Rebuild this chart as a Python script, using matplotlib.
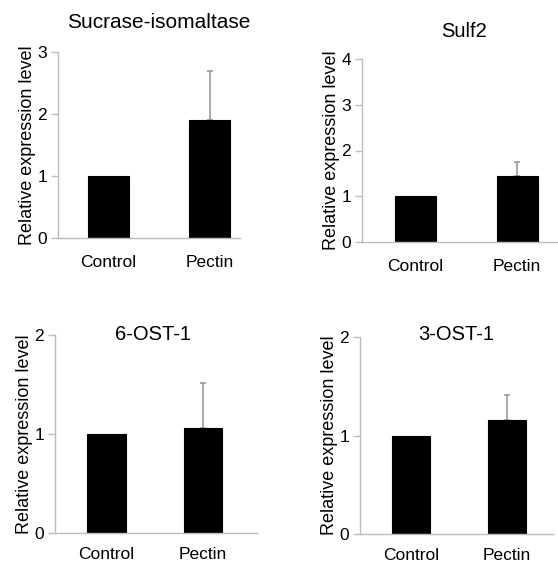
import matplotlib
matplotlib.use("Agg")
import matplotlib.pyplot as plt

plt.rcParams["font.family"] = ["Liberation Sans", "DejaVu Sans"]

TITLES = ["Sucrase-isomaltase", "Sulf2", "6-OST-1", "3-OST-1"]
GROUPS = ["Control", "Pectin"]
CONTROL = [1.0, 1.0, 1.0, 1.0]
PECTIN = [1.9, 1.45, 1.06, 1.16]
PECTIN_ERR = [0.8, 0.3, 0.46, 0.25]
Y_MAX = [3, 4, 2, 2]

# axes boxes in pixels (left, top, right, bottom) measured on a 558x562 canvas
W, H = 558, 562
BOXES = [(58, 52, 240, 238), (362, 59, 557, 242),
         (55, 335, 257, 533), (360, 337, 553, 534)]
XLIMS = [(-0.5, 1.3), (-0.52, 1.39), (-0.53, 1.56), (-0.53, 1.48)]
# title placement in axes fraction (baseline)
TITLE_X = [0.555, 0.523, 0.485, 0.5]
TITLE_Y = [1.129, 1.12, 0.975, 0.985]
TITLE_SIZE = [15, 14.5, 14.5, 14.5]
XTICK_PAD = [12, 12, 10, 10]

AX_GRAY = "#bcbcbc"
ERR_GRAY = "#9a9a9a"

fig = plt.figure(figsize=(W / 100, H / 100), dpi=100)

for i, title in enumerate(TITLES):
    l, t, r, b = BOXES[i]
    ax = fig.add_axes([l / W, 1 - b / H, (r - l) / W, (b - t) / H])
    vals = [CONTROL[i], PECTIN[i]]
    ax.bar([0, 1], vals, width=0.4, color="black", edgecolor="black",
           linewidth=0.8, zorder=2)
    ax.errorbar([1], [PECTIN[i]], yerr=[[0], [PECTIN_ERR[i]]], fmt="none",
                ecolor=ERR_GRAY, elinewidth=1.2, capsize=2.5, capthick=1.2,
                zorder=1)
    ax.set_ylim(0, Y_MAX[i])
    ax.set_xlim(*XLIMS[i])
    ax.set_yticks(range(0, Y_MAX[i] + 1))
    ax.set_xticks([0, 1])
    ax.set_xticklabels(GROUPS)
    for s in ("top", "right"):
        ax.spines[s].set_visible(False)
    for s in ("left", "bottom"):
        ax.spines[s].set_color(AX_GRAY)
        ax.spines[s].set_linewidth(1.0)
    ax.tick_params(axis="y", direction="out", length=5, width=1,
                   color=AX_GRAY, labelsize=12.5, pad=3)
    ax.tick_params(axis="x", length=0, labelsize=12.5, pad=XTICK_PAD[i])
    ax.set_ylabel("Relative expression level", fontsize=13, labelpad=1)
    ax.text(TITLE_X[i], TITLE_Y[i], title, transform=ax.transAxes,
            ha="center", va="baseline", fontsize=TITLE_SIZE[i])

fig.savefig("out.png", dpi=100)
